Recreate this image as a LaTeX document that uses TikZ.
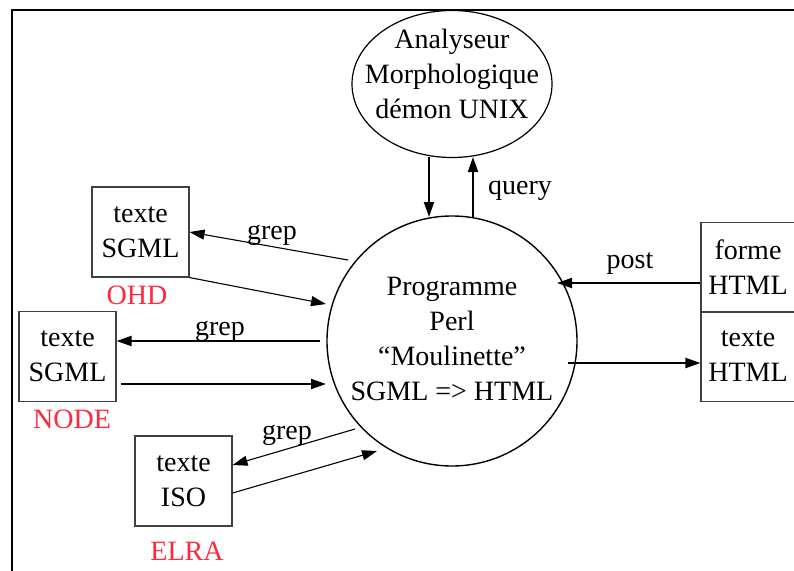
\documentclass[tikz,border=0pt]{standalone}
\usepackage{fontspec}
\setmainfont{Liberation Serif}
\usetikzlibrary{shapes.geometric,arrows.meta,calc}
\definecolor{lab}{RGB}{255,40,60}
\begin{document}
\begin{tikzpicture}[x=1pt,y=-1pt,
  font=\fontsize{28}{35}\selectfont,
  box/.style={draw=black!75,line width=1.1pt,minimum width=97pt,minimum height=90pt,inner sep=0pt,align=center},
  src/.style={text=lab,anchor=base},
  lbl/.style={anchor=base},
  thin/.style={line width=1.1pt,-{Triangle[length=15pt,width=10pt]}},
  thick/.style={line width=2pt,-{Triangle[length=15pt,width=10pt]}}]
\useasboundingbox (0,0) rectangle (794,570);
\clip (0,0) rectangle (794,570);
\draw[line width=1.6pt] (12,640) -- (12,10) -- (850,10);
% ellipse
\node[ellipse,draw,line width=1.2pt,minimum width=200pt,minimum height=147pt,inner sep=0pt] (ana) at (452,84) {};
\node[align=center,inner sep=0pt] (anat) at (452,74) {Analyseur\\Morphologique\\démon UNIX};
% circle
\node[circle,draw,line width=1.4pt,minimum size=250pt,inner sep=0pt] (prog) at (452,341) {};
\node[align=center,inner sep=0pt] (progt) at (452,339) {Programme\\Perl\\“Moulinette”\\SGML => HTML};
% boxes
\node[box] (ohd) at (140.5,232) {texte\\SGML};
\node[box] (nde) at (67.5,356.5) {texte\\SGML};
\node[box] (elra) at (183.5,481) {texte\\ISO};
\node[box,minimum width=94pt] (forme) at (748,267.5) {forme\\HTML};
\node[box,minimum width=94pt] (thtml) at (748,356.5) {texte\\HTML};
% source labels
\node[src] (lohd) at (137,304) {OHD};
\node[src] (lnode) at (72,428) {NODE};
\node[src] (lelra) at (187,560) {ELRA};
% connector end points on the circle / ellipse
\coordinate (c1) at (348,260);
\coordinate (c2) at (326,304);
\coordinate (c3) at (320,341);
\coordinate (c4) at (326,384);
\coordinate (c5) at (355,429);
\coordinate (c6) at (377,451);
\coordinate (c7) at (557,283);
\coordinate (c8) at (568,363);
\coordinate (d1) at (429,157);
\coordinate (d2) at (429,217);
\coordinate (u1) at (473,218);
\coordinate (u2) at (473,157);
% connectors
\draw[thin] (c1) -- (ohd.east);
\draw[thin] (ohd.south east) -- (c2);
\draw[thick] (c3) -- ($(nde.east)+(0,-15.5)$);
\draw[thick] ($(nde.east)+(4,27.5)$) -- (c4);
\draw[thin] (c5) -- ($(elra.east)+(0,-16)$);
\draw[thin] ($(elra.east)+(0,12)$) -- (c6);
\draw[thick] ($(forme.west)+(0,15.5)$) -- (c7);
\draw[thick] (c8) -- ($(thtml.west)+(0,6.5)$);
\draw[thick] (d1) -- (d2);
\draw[thick] (u1) -- (u2);
% labels
\node[lbl] (g1) at (272,239) {grep};
\node[lbl] (g2) at (220,335) {grep};
\node[lbl] (g3) at (287,439) {grep};
\node[lbl] (lpost) at (630,268) {post};
\node[lbl] (lquery) at (520,194) {query};
\end{tikzpicture}
\end{document}
